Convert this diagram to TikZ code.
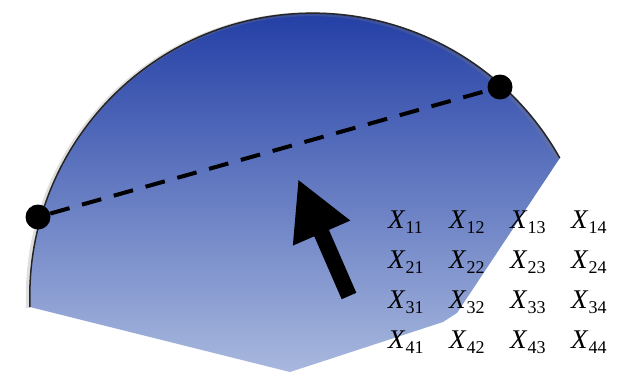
\documentclass[tikz,border=0pt]{standalone}
\usepackage{fontspec}
\setmainfont{Liberation Serif}
\usetikzlibrary{arrows.meta}
\definecolor{wafertop}{RGB}{34,62,165}
\definecolor{wafermid}{RGB}{92,118,190}
\definecolor{waferbot}{RGB}{168,184,222}
\newcommand{\xel}[2]{\textit{X}\raisebox{-5pt}{\fontsize{18}{18}\selectfont #1#2}}

\begin{document}
\begin{tikzpicture}[x=1pt,y=1pt,
  dot/.style={circle,fill=black,inner sep=0pt,minimum size=25pt},
  entry/.style={anchor=base west,inner sep=0pt,font=\fontsize{27}{30}\selectfont}]
\useasboundingbox (0,0) rectangle (617,-375);

\shade[top color=wafertop,middle color=wafermid,bottom color=waferbot]
  (30,-307) arc[start angle=182.2,end angle=29.2,radius=283]
  -- (457,-313) -- (443,-322) -- (290,-372) -- cycle;
\draw[gray,line width=4pt,opacity=0.25,xshift=-2pt,yshift=-1pt]
  (30,-307) arc[start angle=182.2,end angle=29.2,radius=283];
\draw[black!85,line width=1.5pt]
  (30,-307) arc[start angle=182.2,end angle=29.2,radius=283];

\node[dot] (left) at (38,-217) {};
\node[dot] (right) at (500,-87) {};
\draw[line width=4pt,dash pattern=on 20pt off 13pt] (left) -- (right);

\coordinate (tail) at (349,-296);
\coordinate (tip) at (298,-179);
\draw[line width=16pt,-{Triangle[length=59pt,width=58pt]}] (tail) -- (tip);

\foreach \r in {1,...,4}
  \foreach \c in {1,...,4}
    \node[entry] (x\r\c) at ({388+61*(\c-1)},{-228-40*(\r-1)}) {\xel{\r}{\c}};
\end{tikzpicture}
\end{document}
